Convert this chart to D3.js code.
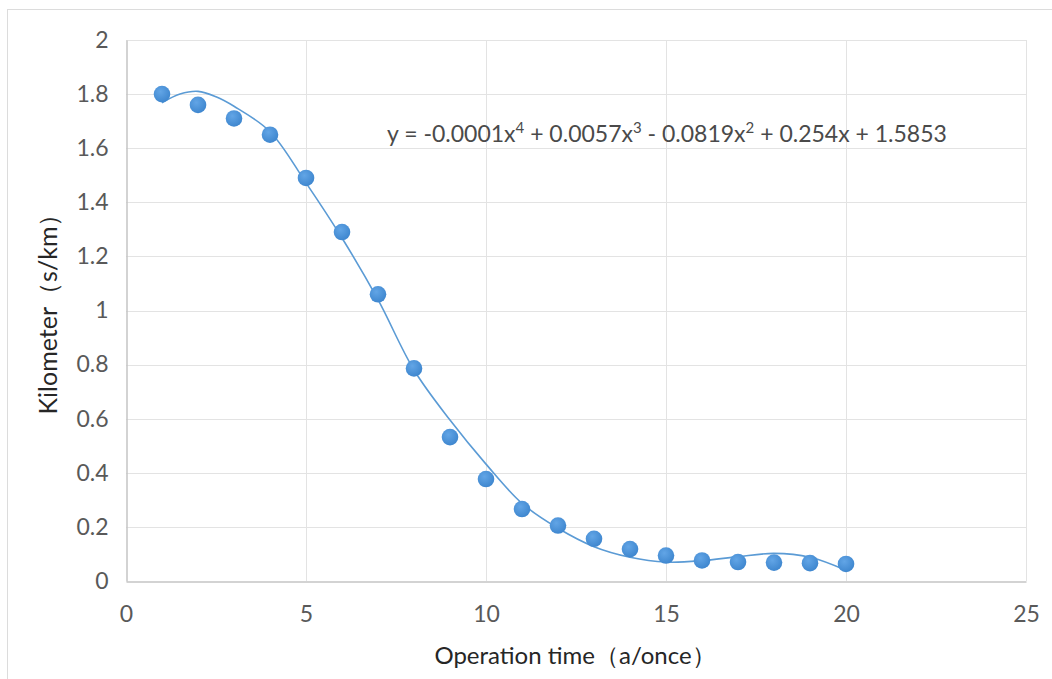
<!DOCTYPE html>
<html>
<head>
<meta charset="utf-8">
<script src="https://cdn.jsdelivr.net/npm/d3@7"></script>
<style>
  body { margin: 0; background: #fff; }
  text { font-family: Lato, "Open Sans", sans-serif; }
</style>
</head>
<body>
<div id="chart"></div>
<script>
// operation time (a/once) and kilometer (s/km) samples
const times = [1, 2, 3, 4, 5, 6, 7, 8, 9, 10, 11, 12, 13, 14, 15, 16, 17, 18, 19, 20]
const kilometer = [1.80, 1.76, 1.71, 1.65, 1.49, 1.29, 1.06, 0.786, 0.532, 0.377,
  0.266, 0.205, 0.156, 0.118, 0.094, 0.076, 0.070, 0.068, 0.066, 0.063]

// polynomial trendline
const trendX = [1, 1.5, 2, 2.5, 3, 4, 5, 6, 7, 8, 9, 10, 11, 12, 13, 14, 15, 16, 17, 18, 19, 20]
const trendY = [1.768, 1.800, 1.810, 1.790, 1.755, 1.661, 1.472, 1.268, 1.040, 0.780, 0.595,
  0.432, 0.287, 0.195, 0.127, 0.088, 0.070, 0.075, 0.090, 0.102, 0.088, 0.040]

const xTicks = [0, 5, 10, 15, 20, 25]
const yTicks = [0, 0.2, 0.4, 0.6, 0.8, 1, 1.2, 1.4, 1.6, 1.8, 2]

const width = 1052
const height = 679
const margin = {top: 40, right: 26, bottom: 98, left: 126}

const svg = d3.select('#chart')
  .append('svg')
  .attr('width', width)
  .attr('height', height)

// outer chart frame
svg.append('rect')
  .attr('x', 7.5)
  .attr('y', 9.5)
  .attr('width', 1100)
  .attr('height', 700)
  .attr('fill', 'none')
  .attr('stroke', '#dcdcdc')

const x = d3.scaleLinear().domain([0, 25]).range([margin.left, width - margin.right])
const y = d3.scaleLinear().domain([0, 2]).range([height - margin.bottom, margin.top])

// gridlines
svg.append('g')
  .selectAll('line.h')
  .data(yTicks.filter(d => d > 0))
  .join('line')
  .attr('x1', x(0))
  .attr('x2', x(25))
  .attr('y1', d => Math.round(y(d)) + 0.5)
  .attr('y2', d => Math.round(y(d)) + 0.5)
  .attr('stroke', '#e3e3e3')

svg.append('g')
  .selectAll('line.v')
  .data(xTicks.filter(d => d > 0))
  .join('line')
  .attr('y1', y(0))
  .attr('y2', y(2))
  .attr('x1', d => Math.round(x(d)) + 0.5)
  .attr('x2', d => Math.round(x(d)) + 0.5)
  .attr('stroke', '#e3e3e3')

// axes
svg.append('g')
  .attr('transform', `translate(0, ${Math.round(y(0)) + 0.5})`)
  .call(d3.axisBottom(x).tickValues(xTicks).tickSize(0).tickPadding(24).tickFormat(d3.format('d')))
  .call(g => g.select('.domain').attr('stroke', '#c4c4c4').attr('stroke-width', 1.5))
  .call(g => g.selectAll('.tick text')
    .attr('font-size', '23px')
    .attr('fill', '#595959')
    .attr('font-family', 'Lato, sans-serif'))

svg.append('g')
  .attr('transform', `translate(${Math.round(x(0)) + 0.5}, 0)`)
  .call(d3.axisLeft(y).tickValues(yTicks).tickSize(0).tickPadding(18).tickFormat(d => String(+d.toFixed(1))))
  .call(g => g.select('.domain').attr('stroke', '#c4c4c4').attr('stroke-width', 1.5))
  .call(g => g.selectAll('.tick text')
    .attr('font-size', '23px')
    .attr('fill', '#595959')
    .attr('font-family', 'Lato, sans-serif'))

// trendline
const line = d3.line()
  .x(d => x(d[0]))
  .y(d => y(d[1]))
  .curve(d3.curveCatmullRom.alpha(0.5))

svg.append('path')
  .datum(trendX.map((t, i) => [t, trendY[i]]))
  .attr('d', line)
  .attr('fill', 'none')
  .attr('stroke', '#5b9bd5')
  .attr('stroke-width', 1.6)

// points
const grad = svg.append('defs').append('radialGradient')
  .attr('id', 'dot')
  .attr('cx', '40%').attr('cy', '35%').attr('r', '65%')
grad.append('stop').attr('offset', '0%').attr('stop-color', '#62a5e6')
grad.append('stop').attr('offset', '100%').attr('stop-color', '#3f87cf')

svg.append('g')
  .selectAll('circle')
  .data(times)
  .join('circle')
  .attr('cx', d => x(d))
  .attr('cy', (d, i) => y(kilometer[i]))
  .attr('r', 8.3)
  .attr('fill', 'url(#dot)')

// trendline equation
const eq = svg.append('text')
  .attr('x', 387)
  .attr('y', 142)
  .attr('font-size', '23px')
  .attr('fill', '#4a4a4a')
const parts = [['y = -0.0001x', ''], ['4', 'sup'], [' + 0.0057x', ''], ['3', 'sup'],
  [' - 0.0819x', ''], ['2', 'sup'], [' + 0.254x + 1.5853', '']]
parts.forEach(([t, kind], i) => {
  const ts = eq.append('tspan').text(t)
  if (kind === 'sup') ts.attr('font-size', '15px').attr('dy', -9)
  else if (i > 0) ts.attr('dy', 9)
})

// axis titles
svg.append('text')
  .attr('transform', `translate(57, 308) rotate(-90)`)
  .attr('text-anchor', 'middle')
  .attr('font-size', '25px')
  .attr('fill', '#262626')
  .text('Kilometer（s/km）')

svg.append('text')
  .attr('x', 575)
  .attr('y', 664)
  .attr('text-anchor', 'middle')
  .attr('font-size', '24px')
  .attr('fill', '#262626')
  .text('Operation time（a/once）')
</script>
</body>
</html>
